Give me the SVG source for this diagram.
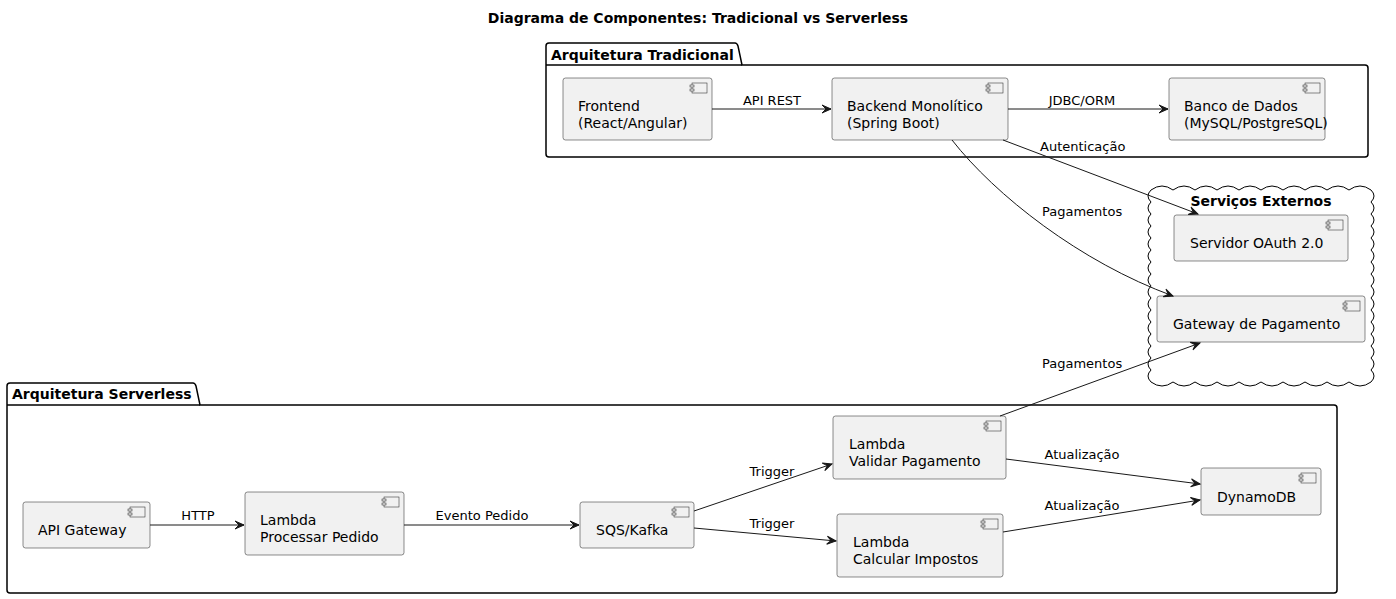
<svg xmlns="http://www.w3.org/2000/svg" width="1396" height="599" viewBox="0 0 1396 599">
<defs>
<style>
text{font-family:"DejaVu Sans","Noto Sans",sans-serif;fill:#000}
.title{font-size:14px;font-weight:bold}
.pkg{font-size:14px;font-weight:bold}
.ct{font-size:14px}
.lbl{font-size:13px}
.comp{fill:#F1F1F1;stroke:#181818;stroke-width:0.5}
.icon{fill:#F1F1F1;stroke:#181818;stroke-width:0.5}
.pk{fill:none;stroke:#000;stroke-width:1.5}
.edge{fill:none;stroke:#181818;stroke-width:1}
</style>
<marker id="ah" markerUnits="userSpaceOnUse" markerWidth="12" markerHeight="10" viewBox="-10 -5 12 10" refX="0" refY="0" orient="auto">
<path d="M0,0 L-9,-4 L-5,0 L-9,4 Z" fill="#181818" stroke="#181818" stroke-width="1"/>
</marker>
<g id="ic">
<rect class="icon" x="0" y="0" width="15" height="10"/>
<rect class="icon" x="-2" y="2" width="4" height="2"/>
<rect class="icon" x="-2" y="6" width="4" height="2"/>
</g>
</defs>
<rect width="1396" height="599" fill="#fff"/>
<text class="title" x="698" y="23" text-anchor="middle">Diagrama de Componentes: Tradicional vs Serverless</text>

<g id="pkg-tradicional">
<path class="pk" d="M546,65 L546,46 Q546,43 549,43 L735,43 Q737,43 738,46 L742,65 L1365,65 Q1368,65 1368,68 L1368,154 Q1368,157 1365,157 L549,157 Q546,157 546,154 Z"/>
<line class="pk" x1="546" y1="65" x2="742" y2="65"/>
<text class="pkg" x="551" y="60">Arquitetura Tradicional</text>
</g>

<g id="pkg-serverless">
<path class="pk" d="M7,405 L7,386 Q7,383 10,383 L193,383 Q195,383 196,386 L200,405 L1334,405 Q1337,405 1337,408 L1337,590 Q1337,593 1334,593 L10,593 Q7,593 7,590 Z"/>
<line class="pk" x1="7" y1="405" x2="200" y2="405"/>
<text class="pkg" x="12" y="399">Arquitetura Serverless</text>
</g>

<g id="cloud-externos">
<path fill="none" stroke="#000" stroke-width="1" d="M1151,190 q11,-8 22,0 q11,-8 22,0 q11,-8 22,0 q11,-8 22,0 q11,-8 22,0 q11,-8 22,0 q11,-8 22,0 q11,-8 22,0 q11,-8 22,0 q11,-8 22,0 q6,6 0,12 q6,6 0,12 q6,6 0,12 q6,6 0,12 q6,6 0,12 q6,6 0,12 q6,6 0,12 q6,6 0,12 q6,6 0,12 q6,6 0,12 q6,6 0,12 q6,6 0,12 q6,6 0,12 q6,6 0,12 q6,6 0,12 q6,6 0,12 q-11,8 -22,0 q-11,8 -22,0 q-11,8 -22,0 q-11,8 -22,0 q-11,8 -22,0 q-11,8 -22,0 q-11,8 -22,0 q-11,8 -22,0 q-11,8 -22,0 q-11,8 -22,0 q-6,-6 0,-12 q-6,-6 0,-12 q-6,-6 0,-12 q-6,-6 0,-12 q-6,-6 0,-12 q-6,-6 0,-12 q-6,-6 0,-12 q-6,-6 0,-12 q-6,-6 0,-12 q-6,-6 0,-12 q-6,-6 0,-12 q-6,-6 0,-12 q-6,-6 0,-12 q-6,-6 0,-12 q-6,-6 0,-12 q-6,-6 0,-12 Z"/>
<text class="pkg" x="1261" y="206" text-anchor="middle">Serviços Externos</text>
</g>

<g id="frontend">
<rect class="comp" x="563" y="78" width="149" height="62" rx="2.5"/>
<use href="#ic" x="692" y="83"/>
<text class="ct" x="578" y="111">Frontend</text>
<text class="ct" x="578" y="128">(React/Angular)</text>
</g>
<g id="backend">
<rect class="comp" x="832" y="78" width="176" height="62" rx="2.5"/>
<use href="#ic" x="988" y="83"/>
<text class="ct" x="847" y="111">Backend Monolítico</text>
<text class="ct" x="847" y="128">(Spring Boot)</text>
</g>
<g id="banco">
<rect class="comp" x="1169" y="78" width="156" height="62" rx="2.5"/>
<use href="#ic" x="1305" y="83"/>
<text class="ct" x="1184" y="111">Banco de Dados</text>
<text class="ct" x="1184" y="128">(MySQL/PostgreSQL)</text>
</g>
<g id="oauth">
<rect class="comp" x="1174" y="215" width="174" height="46" rx="2.5"/>
<use href="#ic" x="1328" y="220"/>
<text class="ct" x="1190" y="248">Servidor OAuth 2.0</text>
</g>
<g id="gateway-pagamento">
<rect class="comp" x="1157" y="296" width="208" height="46" rx="2.5"/>
<use href="#ic" x="1345" y="301"/>
<text class="ct" x="1173" y="329">Gateway de Pagamento</text>
</g>

<g id="api-gateway">
<rect class="comp" x="23" y="502" width="127" height="46" rx="2.5"/>
<use href="#ic" x="130" y="507"/>
<text class="ct" x="38" y="535">API Gateway</text>
</g>
<g id="lambda-processar">
<rect class="comp" x="245" y="492" width="159" height="63" rx="2.5"/>
<use href="#ic" x="384" y="497"/>
<text class="ct" x="260" y="525">Lambda</text>
<text class="ct" x="260" y="542">Processar Pedido</text>
</g>
<g id="sqs-kafka">
<rect class="comp" x="580" y="502" width="114" height="46" rx="2.5"/>
<use href="#ic" x="674" y="507"/>
<text class="ct" x="596" y="535">SQS/Kafka</text>
</g>
<g id="lambda-validar">
<rect class="comp" x="833" y="416" width="173" height="63" rx="2.5"/>
<use href="#ic" x="986" y="421"/>
<text class="ct" x="849" y="449">Lambda</text>
<text class="ct" x="849" y="466">Validar Pagamento</text>
</g>
<g id="lambda-calcular">
<rect class="comp" x="837" y="514" width="166" height="63" rx="2.5"/>
<use href="#ic" x="983" y="519"/>
<text class="ct" x="853" y="547">Lambda</text>
<text class="ct" x="853" y="564">Calcular Impostos</text>
</g>
<g id="dynamodb">
<rect class="comp" x="1201" y="468" width="120" height="47" rx="2.5"/>
<use href="#ic" x="1301" y="473"/>
<text class="ct" x="1217" y="502">DynamoDB</text>
</g>

<g id="connectors">
<line class="edge" x1="712" y1="109" x2="831" y2="109" marker-end="url(#ah)"/>
<text class="lbl" x="772" y="105" text-anchor="middle">API REST</text>
<line class="edge" x1="1008" y1="109" x2="1168" y2="109" marker-end="url(#ah)"/>
<text class="lbl" x="1082" y="105" text-anchor="middle">JDBC/ORM</text>
<line class="edge" x1="1003" y1="140" x2="1198" y2="214" marker-end="url(#ah)"/>
<text class="lbl" x="1040" y="151">Autenticação</text>
<path class="edge" d="M952,140 C995,195 1080,262 1173,296" marker-end="url(#ah)"/>
<text class="lbl" x="1042" y="216">Pagamentos</text>
<line class="edge" x1="1000" y1="416" x2="1200" y2="343" marker-end="url(#ah)"/>
<text class="lbl" x="1042" y="368">Pagamentos</text>
<line class="edge" x1="150" y1="525" x2="244" y2="525" marker-end="url(#ah)"/>
<text class="lbl" x="198" y="520" text-anchor="middle">HTTP</text>
<line class="edge" x1="404" y1="525" x2="579" y2="525" marker-end="url(#ah)"/>
<text class="lbl" x="482" y="520" text-anchor="middle">Evento Pedido</text>
<line class="edge" x1="694" y1="511" x2="832" y2="464" marker-end="url(#ah)"/>
<text class="lbl" x="772" y="476" text-anchor="middle">Trigger</text>
<line class="edge" x1="694" y1="528" x2="836" y2="541" marker-end="url(#ah)"/>
<text class="lbl" x="772" y="528" text-anchor="middle">Trigger</text>
<line class="edge" x1="1006" y1="459" x2="1200" y2="484" marker-end="url(#ah)"/>
<text class="lbl" x="1082" y="459" text-anchor="middle">Atualização</text>
<line class="edge" x1="1003" y1="532" x2="1200" y2="500" marker-end="url(#ah)"/>
<text class="lbl" x="1082" y="510" text-anchor="middle">Atualização</text>
</g>
</svg>
